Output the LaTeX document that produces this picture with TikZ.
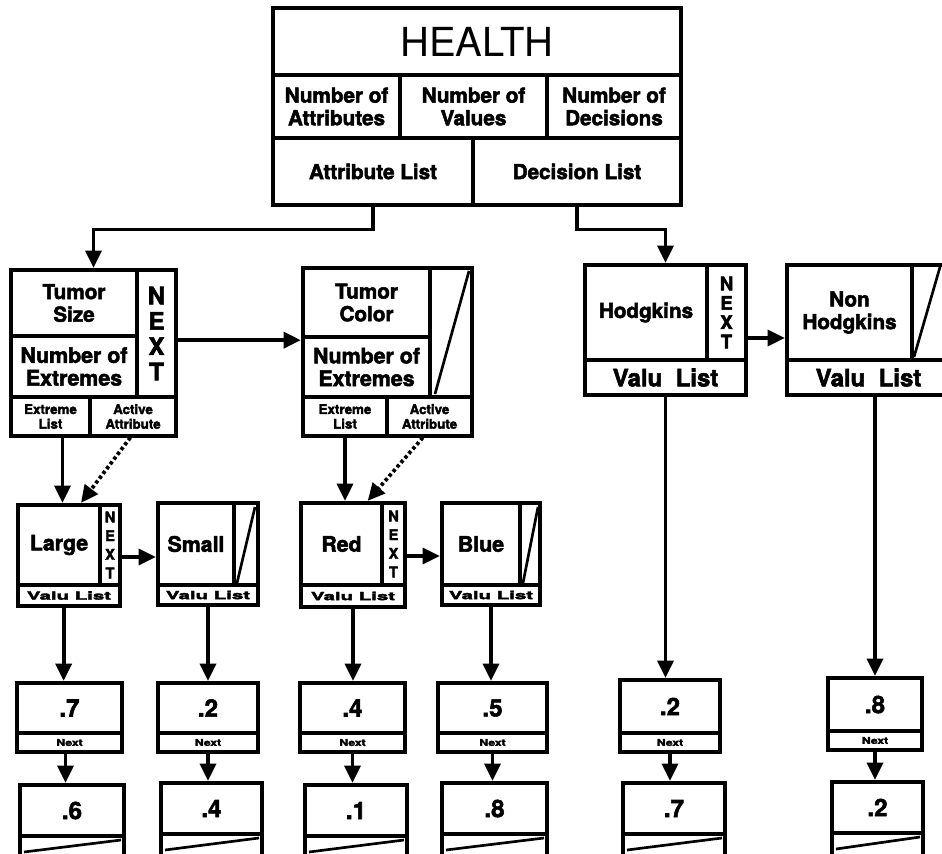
\documentclass[tikz,border=0pt]{standalone}
\usepackage{fontspec}
\usepackage{graphicx}
\setmainfont{TeX Gyre Heros}[BoldFeatures={FakeBold=2.4}]
\usetikzlibrary{fit,arrows.meta,calc}
\newcommand{\fsz}[2]{\fontsize{#1}{#2}\selectfont\bfseries}
% \cl{name}{x1}{y1}{x2}{y2}{font}{text}
\newcommand{\cl}[7]{%
 \node[cell,fit={(#2,#3)(#4,#5)}] (#1) {};
 \node[txt,font=#6] (#1-t) at (#1.center) {#7};}
\newcommand{\nextbox}[6]{%
 \cl{#1a}{#2}{#3}{#4}{#5-19}{\fsz{18}{19}}{#6}
 \cl{#1b}{#2}{#5-19}{#4}{#5}{\fsz{7}{8}}{\scalebox{1.3}[1]{Next}}
 \node[frame,fit={(#2,#3)(#4,#5)}] (#1) {};}
\newcommand{\termbox}[5]{%
 \cl{#1a}{#2}{#3}{#4}{#3+51}{\fsz{18}{19}}{#5}
 \node[cell,fit={(#2,#3+51)(#4,#3+85)}] (#1b) {};
 \node[frame,fit={(#2,#3)(#4,#3+85)}] (#1) {};
 \draw[slash] (#2+4,#3+67) -- (#4-3,#3+55);}
\begin{document}
\begin{tikzpicture}[x=0.75pt,y=-0.75pt,
 frame/.style={draw,line width=3.2pt,inner sep=0pt},
 cell/.style={draw,line width=2.4pt,inner sep=0pt},
 txt/.style={inner sep=0pt,align=center},
 arr/.style={line width=2.8pt,-{Triangle[length=13pt,width=12pt]}},
 darr/.style={arr,dash pattern=on 2.5pt off 2pt},
 slash/.style={line width=2pt},
]
\useasboundingbox (0,0) rectangle (942,853);
\def\std{\fsz{15.5}{17}}
% HEALTH
\cl{htitle}{273}{8}{681}{75}{\fontsize{30}{32}\selectfont}{HEALTH}
\cl{hnattr}{273}{75}{400}{138}{\std}{Number of\\Attributes}
\cl{hnval}{400}{75}{547}{138}{\std}{Number of\\Values}
\cl{hndec}{547}{75}{681}{138}{\std}{Number of\\Decisions}
\cl{hattr}{273}{138}{473}{205}{\std}{Attribute List}
\cl{hdec}{473}{138}{681}{205}{\std}{Decision List}
\node[frame,fit={(273,8)(681,205)}] (health) {};
% Tumor Size
\cl{tname}{11}{270}{137}{336}{\fsz{15.5}{17}}{Tumor\\Size}
\cl{tnum}{11}{336}{137}{397}{\fsz{16}{17}}{Number of\\Extremes}
\cl{tnext}{137}{270}{176}{397}{\fsz{18}{19}}{N\\E\\X\\T}
\cl{textr}{11}{397}{90}{436}{\fsz{10}{11}}{Extreme\\List}
\cl{tact}{90}{397}{176}{436}{\fsz{10}{11}}{Active\\Attribute}
\node[frame,fit={(11,270)(176,436)}] (tsize) {};
% Tumor Color
\cl{tcname}{303}{268}{430}{337}{\fsz{15.5}{17}}{Tumor\\Color}
\cl{tcnum}{303}{337}{430}{397}{\fsz{16}{17}}{Number of\\Extremes}
\node[cell,fit={(430,268)(472,397)}] (tcslash) {};
\cl{tcextr}{303}{397}{387}{436}{\fsz{10}{11}}{Extreme\\List}
\cl{tcact}{387}{397}{472}{436}{\fsz{10}{11}}{Active\\Attribute}
\node[frame,fit={(303,268)(472,436)}] (tcolor) {};
\draw[slash] (435,394) -- (469,271);
% Hodgkins
\cl{hname}{585}{265}{707}{360}{\std}{Hodgkins}
\cl{hnext}{707}{265}{746}{360}{\fsz{14}{14.5}}{N\\E\\X\\T}
\cl{hval}{585}{360}{746}{395}{\fsz{18}{19}}{Valu\ \ List}
\node[frame,fit={(585,265)(746,395)}] (hodg) {};
% Non Hodgkins
\cl{nname}{787}{265}{912}{360}{\std}{Non\\Hodgkins}
\node[cell,fit={(912,265)(950,360)}] (nslash) {};
\cl{nval}{787}{360}{950}{395}{\fsz{18}{19}}{Valu\ \ List}
\node[frame,fit={(787,265)(950,395)}] (nonh) {};
\draw[slash] (914,357) -- (940,267);
% Large
\cl{lname}{18}{505}{100}{585}{\fsz{16}{17}}{Large}
\cl{lnext}{100}{505}{120}{585}{\fsz{11}{14}}{N\\E\\X\\T}
\cl{lval}{18}{585}{120}{606}{\fsz{8.5}{9}}{\scalebox{1.8}[1]{Valu List}}
\node[frame,fit={(18,505)(120,606)}] (large) {};
% Small
\cl{sname}{158}{503}{234}{585}{\fsz{16}{17}}{Small}
\node[cell,fit={(234,503)(258,585)}] (sslash) {};
\cl{sval}{158}{585}{258}{605}{\fsz{8.5}{9}}{\scalebox{1.8}[1]{Valu List}}
\node[frame,fit={(158,503)(258,605)}] (small) {};
\draw[slash] (237,583) -- (255,507);
% Red
\cl{rname}{301}{503}{382}{585}{\fsz{16}{17}}{Red}
\cl{rnext}{382}{503}{405}{585}{\fsz{11}{14}}{N\\E\\X\\T}
\cl{rval}{301}{585}{405}{607}{\fsz{8.5}{9}}{\scalebox{1.8}[1]{Valu List}}
\node[frame,fit={(301,503)(405,607)}] (red) {};
% Blue
\cl{bname}{442}{503}{520}{585}{\fsz{16}{17}}{Blue}
\node[cell,fit={(520,503)(540,585)}] (bslash) {};
\cl{bval}{442}{585}{540}{605}{\fsz{8.5}{9}}{\scalebox{1.8}[1]{Valu List}}
\node[frame,fit={(442,503)(540,605)}] (blue) {};
\draw[slash] (523,583) -- (538,507);
% value boxes row 1
\nextbox{va}{17}{683}{122}{752}{.7}
\nextbox{vb}{158}{683}{258}{752}{.2}
\nextbox{vc}{300}{683}{405}{752}{.4}
\nextbox{vd}{438}{683}{547}{752}{.5}
\nextbox{ve}{620}{680}{720}{752}{.2}
\nextbox{vf}{828}{678}{922}{750}{.8}
% value boxes row 2
\termbox{wa}{20}{785}{124}{.6}
\termbox{wb}{161}{783}{262}{.4}
\termbox{wc}{305}{785}{407}{.1}
\termbox{wd}{442}{783}{547}{.8}
\termbox{we}{623}{783}{725}{.7}
\termbox{wf}{832}{782}{923}{.2}
% connectors
\draw[arr] (hattr.south) -- ++(0,23) -| (tsize.north);
\draw[arr] (hdec.south) -- ++(0,23) -| (hodg.north);
\draw[arr] ([yshift=-5pt]tnext.east) -- ([yshift=-5pt]tnext.east -| tcolor.west);
\draw[arr] ([yshift=-6pt]hodg.east) -- ([yshift=-6pt]hodg.east -| nonh.west);
\draw[arr] ([xshift=9pt]textr.south) -- ([xshift=9pt]textr.south |- large.north);
\draw[darr] ([xshift=-2pt]tact.south) -- ([xshift=9pt]large.north);
\draw[arr] (tcextr.south) -- (tcextr.south |- red.north);
\draw[darr] ([xshift=-5pt]tcact.south) -- ([xshift=11pt]red.north);
\draw[arr] ([yshift=-9pt]lnext.east) -- ([yshift=-9pt]lnext.east -| small.west);
\draw[arr] ([yshift=-9pt]rnext.east) -- ([yshift=-9pt]rnext.east -| blue.west);
\draw[arr] ([xshift=-4pt]large.south) -- ([xshift=-4pt]large.south |- va.north);
\draw[arr] (small.south) -- (small.south |- vb.north);
\draw[arr] (red.south) -- (red.south |- vc.north);
\draw[arr] (blue.south) -- (blue.south |- vd.north);
\draw[arr] (hodg.south) -- (hodg.south |- ve.north);
\draw[arr] (nonh.south -| vf.north) -- (vf.north);
\draw[arr] ([xshift=-3pt]va.south) -- ([xshift=-3pt]va.south |- wa.north);
\draw[arr] (vb.south) -- (vb.south |- wb.north);
\draw[arr] (vc.south) -- (vc.south |- wc.north);
\draw[arr] (vd.south) -- (vd.south |- wd.north);
\draw[arr] (ve.south) -- (ve.south |- we.north);
\draw[arr] (vf.south) -- (vf.south |- wf.north);
\end{tikzpicture}
\end{document}
